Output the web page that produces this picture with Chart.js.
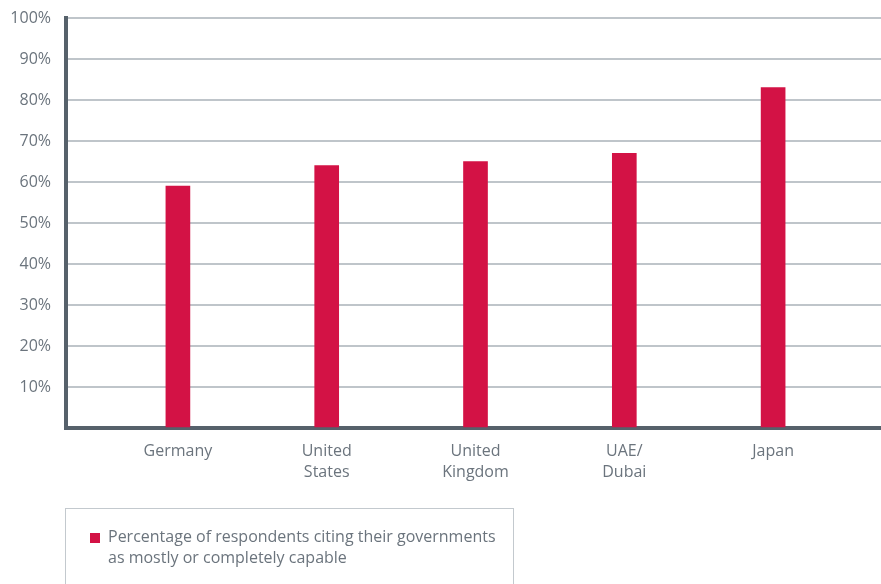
<!DOCTYPE html>
<html>
<head>
<meta charset="utf-8">
<script src="https://cdn.jsdelivr.net/npm/chart.js@4/dist/chart.umd.min.js"></script>
<style>
  html, body { margin: 0; padding: 0; background: #fff; overflow: hidden; }
  #wrap { position: relative; width: 881px; height: 584px; }
  #legend {
    position: absolute; left: 65px; top: 508px; width: 449px; height: 100px;
    border: 1px solid #c3c9ce; box-sizing: border-box;
    font-family: "Open Sans", sans-serif; font-size: 16px; line-height: 21px; color: #6b747d;
  }
  #legend .box { position: absolute; left: 24px; top: 24px; width: 10px; height: 10px; }
  #legend .txt { position: absolute; left: 42px; top: 17px; width: 400px; }
</style>
</head>
<body>
<div id="wrap">
  <canvas id="c" width="881" height="584"></canvas>
  <div id="legend"><span class="box"></span><span class="txt"></span></div>
</div>
<script>
(function () {
  "use strict";

  const categories = [["Germany"], ["United", "States"], ["United", "Kingdom"], ["UAE/", "Dubai"], ["Japan"]];
  const values = [59, 64, 65, 67, 83];
  const yTickLabels = ["", "10%", "20%", "30%", "40%", "50%", "60%", "70%", "80%", "90%", "100%"];
  const seriesLabel = "Percentage of respondents citing their governments as mostly or completely capable";

  const barColor = "#d31245";
  const textColor = "#6b747d";

  function get(id) {
    return document.getElementById(id);
  }

  get("legend").querySelector(".box").style.background = barColor;
  get("legend").querySelector(".txt").textContent = seriesLabel;

  const points = values.map((v, i) => ({ x: i, y: v }));

  new Chart(get("c").getContext("2d"), {
    type: "bar",
    data: {
      datasets: [{
        label: seriesLabel,
        data: points,
        backgroundColor: barColor,
        barThickness: 24,
      }],
    },
    options: {
      responsive: false,
      animation: false,
      layout: { padding: { top: 18, right: 0, left: 0, bottom: 0 } },
      plugins: { legend: { display: false }, tooltip: { enabled: false } },
      scales: {
        x: {
          type: "linear",
          offset: false,
          min: -0.752,
          max: 4.725,
          grid: { display: false, drawTicks: false },
          border: { color: "#56616b", width: 4 },
          ticks: {
            stepSize: 1,
            autoSkip: false,
            maxRotation: 0,
            padding: 13,
            color: textColor,
            font: { family: "Open Sans", size: 16, lineHeight: 1.3 },
            callback: (v) => (Number.isInteger(v) && categories[v] ? categories[v] : ""),
          },
          afterFit: (s) => {
            s.height = 156;
            s.paddingLeft = 0;
            s.paddingRight = 0;
          },
        },
        y: {
          min: 0,
          max: 100,
          grid: { color: "#bfc5ca", lineWidth: 2, drawTicks: false },
          border: { color: "#56616b", width: 4 },
          ticks: {
            stepSize: 10,
            padding: 15,
            color: textColor,
            font: { family: "Open Sans", size: 16 },
            callback: (v) => yTickLabels[Math.round(v / 10)],
          },
          afterFit: (s) => {
            s.width = 66;
            s.paddingTop = 0;
            s.paddingBottom = 0;
          },
        },
      },
    },
  });
})();
</script>
</body>
</html>
